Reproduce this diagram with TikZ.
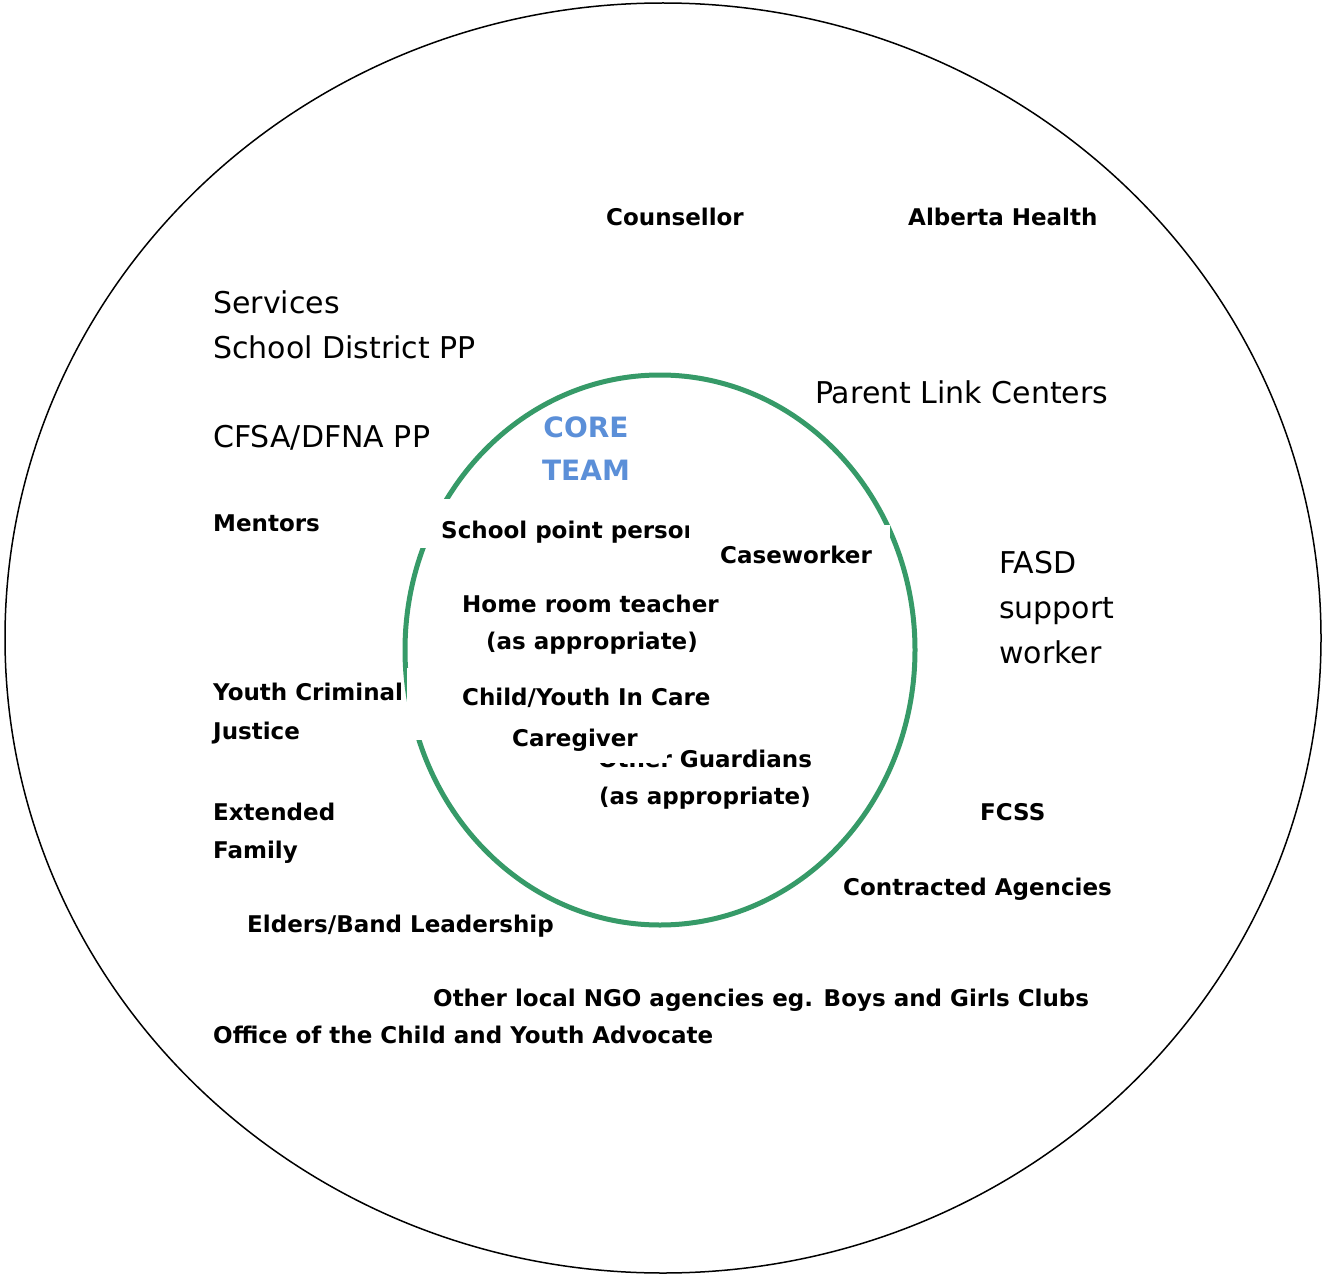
\documentclass[tikz,border=0pt]{standalone}
\usepackage{fontspec}
\setmainfont{DejaVu Sans}
\definecolor{ringgreen}{HTML}{369A68}
\definecolor{coreblue}{HTML}{5B8FD8}
\begin{document}
\begin{tikzpicture}[x=1pt,y=-1pt,
  bt/.style={font=\bfseries\fontsize{23}{27}\selectfont, anchor=base west, inner sep=0pt},
  rt/.style={font=\fontsize{30}{35}\selectfont, anchor=base west, inner sep=0pt},
  ct/.style={font=\bfseries\fontsize{28}{33}\selectfont, text=coreblue, anchor=base, inner sep=0pt},
  occ/.style={fill=white, draw=none}]
\useasboundingbox (0,0) rectangle (1323,1276);
% outer ring
\draw[line width=1.5pt] (663,638) ellipse [x radius=658, y radius=635];
% core ring
\draw[ringgreen, line width=5pt] (660,650) ellipse [x radius=255, y radius=275];

% outer members
\node[bt] (couns) at (606,226) {Counsellor};
\node[bt] (ahs) at (908,226) {Alberta Health};
\node[rt] (serv) at (213,313) {Services};
\node[rt] (sdpp) at (213,358) {School District PP};
\node[rt] (plc) at (815,403) {Parent Link Centers};
\node[rt] (cfsa) at (213,447) {CFSA/DFNA PP};
\node[bt] (ment) at (213,531) {Mentors};
\node[rt] (fasd1) at (999,573) {FASD};
\node[rt] (fasd2) at (999,618) {support};
\node[rt] (fasd3) at (999,663) {worker};
\node[bt] (ycj1) at (213,700) {Youth Criminal};
\node[bt] (ycj2) at (213,739) {Justice};
\node[bt] (ext1) at (213,820) {Extended};
\node[bt] (ext2) at (213,858) {Family};
\node[bt] (fcss) at (980,820) {FCSS};
\node[bt] (contr) at (843,895) {Contracted Agencies};
\node[bt] (elders) at (247,932) {Elders/Band Leadership};
\node[bt] (ngo) at (433,1006) {Other local NGO agencies eg. Boys and Girls Clubs};
\node[bt] (ocya) at (213,1043) {Office of the Child and Youth Advocate};

% core team
\node[ct] (core1) at (586,437) {CORE};
\node[ct] (core2) at (586,480) {TEAM};
\node[bt, anchor=base] (guard1) at (705,767) {Other Guardians};
\node[bt] (guard2) at (599,804) {(as appropriate)};

\begin{scope}
  \clip (415,499) rectangle (688,548);
  \fill[occ] (415,499) rectangle (688,548);
  \node[bt] (spp) at (441,538) {School point person};
\end{scope}
\fill[occ] (712,525) rectangle (890,580);
\node[bt] (case) at (720,563) {Caseworker};
\node[bt] (hrt1) at (462,612) {Home room teacher};
\node[bt] (hrt2) at (486,649) {(as appropriate)};
\fill[occ] (407,668) rectangle (722,740);
\node[bt] (cyic) at (462,705) {Child/Youth In Care};
\fill[occ] (505,718) rectangle (667,763);
\node[bt] (cg) at (512,746) {Caregiver};
\end{tikzpicture}
\end{document}
